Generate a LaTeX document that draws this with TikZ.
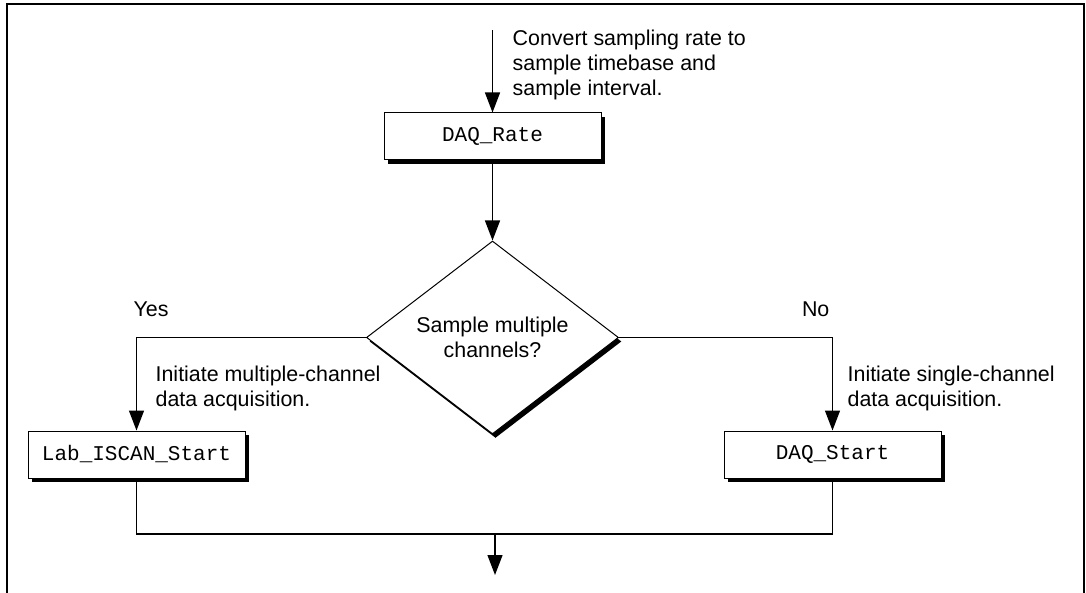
\documentclass[tikz,border=0pt]{standalone}
\usepackage{fontspec}
\setmainfont{Liberation Sans}
\setmonofont{Liberation Mono}
\usetikzlibrary{shapes.geometric, positioning, arrows.meta, shadows}

\begin{document}
\begin{tikzpicture}[x=0.5pt, y=-0.5pt, line width=0.65pt,
        -{Triangle[length=10pt, width=7.5pt]},
        font=\fontsize{10.7}{12.5}\selectfont,
        box/.style={rectangle, draw, fill=white, line width=0.5pt,
            minimum width=108.5pt, minimum height=23.5pt,
            font=\ttfamily\fontsize{10.5}{12}\selectfont,
            drop shadow={shadow xshift=2pt, shadow yshift=-2pt, fill=black, opacity=1}},
        decision/.style={diamond, draw, fill=white, line width=0.5pt, inner sep=0pt,
            minimum width=126pt, minimum height=85.5pt, align=center,
            drop shadow={shadow xshift=1.5pt, shadow yshift=-2pt, fill=black, opacity=1}},
        note/.style={inner sep=0pt, align=left}]
        \useasboundingbox (0,0) rectangle (1086,593);
        \draw[-, line width=1pt] (7,593) -- (7,4) -- (1083.5,4) -- (1083.5,593);

        \node[box] (rate) at (492.5,136.5) {DAQ\_Rate};
        \node[decision, below=40pt of rate] (dec) {Sample multiple\\channels?};
        \node[box] (lab) at (136.5,454.5) {Lab\_ISCAN\_Start};
        \node[box] (start) at (832.5,454.5) {DAQ\_Start};

        \coordinate (in) at (492.5,30);
        \coordinate (join) at (495,534);
        \coordinate (out) at (495,575);

        \node[note, anchor=north west] (ratenote) at (512,29) {Convert sampling rate to\\sample timebase and\\sample interval.};
        \node[note, anchor=base west] (yes) at (133,316) {Yes};
        \node[note, anchor=base east] (no) at (830,316) {No};
        \node[note, anchor=north west] (multinote) at (155,365) {Initiate multiple-channel\\data acquisition.};
        \node[note, anchor=north west] (singlenote) at (847,365) {Initiate single-channel\\data acquisition.};

        \draw (in) -- (rate);
        \draw (rate) -- (dec);
        \draw (dec.west) -| (lab.north);
        \draw (dec.east) -| (start.north);
        \draw[-] (lab.south) |- (join) -| (start.south);
        \draw (join) -- (out);
    \end{tikzpicture}
\end{document}
